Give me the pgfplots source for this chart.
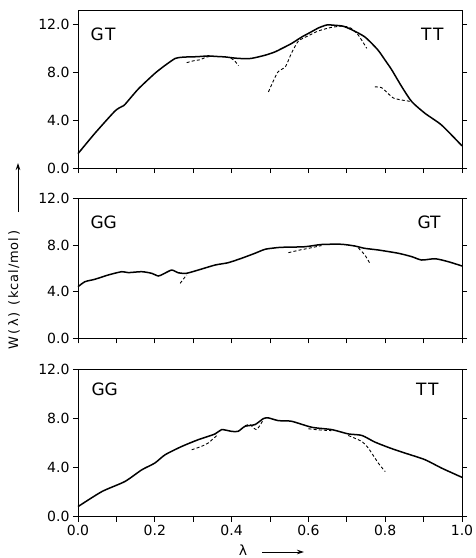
\documentclass[border=0pt]{standalone}
\usepackage{pgfplots}
\pgfplotsset{compat=1.18}
\usepackage{fontspec}
\setmainfont{DejaVu Sans}
\usetikzlibrary{arrows.meta}
\pgfplotsset{
  panel/.style={
    scale only axis, width=384pt,
    xmin=0, xmax=1, ymin=0,
    xtick={0,0.1,0.2,0.3,0.4,0.5,0.6,0.7,0.8,0.9,1},
    xticklabels={},
    ytick={0,4,8,12},
    yticklabels={0.0,4.0,8.0,12.0},
    tick align=outside,
    major tick length=5pt,
    xtick pos=left,
    ytick pos=both,
    axis line style={line width=0.9pt},
    every tick/.style={black, line width=0.8pt},
    tick label style={font=\fontsize{14}{14}\selectfont},
    clip=false,
  },
  sol/.style={black, line width=1.5pt, smooth, tension=0.4},
  dsh/.style={black, line width=0.9pt, dash pattern=on 3pt off 2.2pt, smooth, tension=0.4},
}
\tikzset{lab/.style={font=\fontsize{17}{17}\selectfont}}
\begin{document}
\begin{tikzpicture}
\path[use as bounding box] (-78pt,-558pt) rectangle (397pt,0pt);
% ---------------- panel 1 : GT -> TT
\begin{axis}[panel, at={(0pt,-168pt)}, anchor=south west, height=158pt, ymax=13.2]
\addplot[sol] coordinates {
(0,1.2) (0.044,2.9) (0.096,4.75) (0.115,5.15) (0.122,5.3) (0.157,6.6)
(0.20,7.9) (0.227,8.58) (0.253,9.15) (0.27,9.25) (0.287,9.28) (0.31,9.3)
(0.339,9.36) (0.36,9.32) (0.383,9.28) (0.409,9.18) (0.43,9.14) (0.452,9.16)
(0.487,9.42) (0.513,9.7) (0.53,9.97) (0.556,10.4) (0.583,10.95) (0.609,11.4)
(0.626,11.7) (0.648,11.95) (0.67,11.92) (0.69,11.85) (0.713,11.55)
(0.747,10.95) (0.78,9.9) (0.80,9.0) (0.817,8.2) (0.843,6.8) (0.869,5.55)
(0.904,4.56) (0.947,3.58) (1.0,1.85)
};
\addplot[dsh] coordinates {(0.283,8.8) (0.30,8.95) (0.318,9.05) (0.333,9.25) (0.345,9.33)};
\addplot[dsh] coordinates {(0.398,9.18) (0.408,8.95) (0.418,8.55)};
\addplot[dsh] coordinates {
(0.496,6.36) (0.52,8.0) (0.54,8.45) (0.556,9.6) (0.574,10.6) (0.60,11.05)
(0.626,11.45) (0.66,11.75) (0.69,11.85) (0.71,11.7) (0.73,11.1) (0.752,10.0)
};
\addplot[dsh] coordinates {(0.773,6.78) (0.79,6.72) (0.805,6.3) (0.821,5.85) (0.843,5.68) (0.869,5.55)};
\node[lab, anchor=west, xshift=9pt, yshift=-24pt] at (rel axis cs:0,1) {G\kern1.5pt T};
\node[lab, anchor=east, xshift=-15pt, yshift=-24pt] at (rel axis cs:1,1) {T\kern1.5pt T};
\end{axis}
% ---------------- panel 2 : GG -> GT
\begin{axis}[panel, at={(0pt,-338.3pt)}, anchor=south west, height=140pt, ymax=12]
\addplot[sol] coordinates {
(0,4.42) (0.018,4.85) (0.044,5.06) (0.079,5.43) (0.114,5.71) (0.131,5.63)
(0.166,5.71) (0.192,5.57) (0.209,5.34) (0.222,5.51) (0.244,5.85) (0.261,5.62)
(0.282,5.57) (0.313,5.85) (0.357,6.28) (0.391,6.48) (0.426,6.86) (0.461,7.29)
(0.487,7.63) (0.513,7.75) (0.53,7.8) (0.591,7.85) (0.634,8.04) (0.686,8.06)
(0.721,7.91) (0.747,7.71) (0.782,7.57) (0.834,7.29) (0.869,7.0) (0.895,6.71)
(0.93,6.82) (0.964,6.57) (1.0,6.2)
};
\addplot[dsh] coordinates {(0.266,4.71) (0.275,5.1) (0.283,5.43)};
\addplot[dsh] coordinates {(0.548,7.34) (0.575,7.55) (0.60,7.71) (0.634,7.95)};
\addplot[dsh] coordinates {(0.73,7.75) (0.747,7.14) (0.760,6.43)};
\node[lab, anchor=west, xshift=9pt, yshift=-24pt] at (rel axis cs:0,1) {GG};
\node[lab, anchor=east, xshift=-18pt, yshift=-24pt] at (rel axis cs:1,1) {GT};
\end{axis}
% ---------------- panel 3 : GG -> TT
\begin{axis}[panel, at={(0pt,-516.7pt)}, anchor=south west, height=147.6pt, ymax=12,
  xticklabels={0.0,,0.2,,0.4,,0.6,,0.8,,1.0}]
\addplot[sol] coordinates {
(0,0.82) (0.062,2.04) (0.122,2.86) (0.166,3.81) (0.20,4.36) (0.227,5.04)
(0.27,5.71) (0.313,6.26) (0.357,6.73) (0.374,7.08) (0.40,6.94) (0.417,6.94)
(0.435,7.35) (0.461,7.49) (0.483,7.98) (0.496,8.03) (0.522,7.81) (0.556,7.76)
(0.609,7.27) (0.661,7.08) (0.704,6.73) (0.739,6.61) (0.773,6.07) (0.813,5.58)
(0.852,5.17) (0.904,4.63) (0.947,3.95) (1.0,3.2)
};
\addplot[dsh] coordinates {(0.296,5.44) (0.32,5.7) (0.339,5.99) (0.365,6.7)};
\addplot[dsh] coordinates {(0.435,7.4) (0.448,7.49) (0.465,7.08) (0.483,7.9)};
\addplot[dsh] coordinates {(0.60,7.15) (0.63,7.05) (0.66,7.0)};
\addplot[dsh] coordinates {(0.704,6.6) (0.739,6.12) (0.756,5.58) (0.782,4.36) (0.80,3.67)};
\node[lab, anchor=west, xshift=10pt, yshift=-20pt] at (rel axis cs:0,1) {GG};
\node[lab, anchor=east, xshift=-20pt, yshift=-20pt] at (rel axis cs:1,1) {T\kern1.5pt T};
\end{axis}
% ---------------- axis titles
\node[rotate=90, font=\fontsize{13}{13}\selectfont\addfontfeatures{LetterSpace=6}] at (-64pt,-290pt)
  {W\,(\,λ\,)\enspace(\,kcal/mol\,)};
\draw[-{Stealth[length=7pt,width=4.5pt]}, line width=0.8pt] (-60pt,-212pt) -- (-60pt,-163pt);
\node[font=\fontsize{14}{14}\selectfont] at (165pt,-550pt) {λ};
\draw[-{Stealth[length=7pt,width=4.5pt]}, line width=0.8pt] (184pt,-552pt) -- (226pt,-552pt);
\end{tikzpicture}
\end{document}
